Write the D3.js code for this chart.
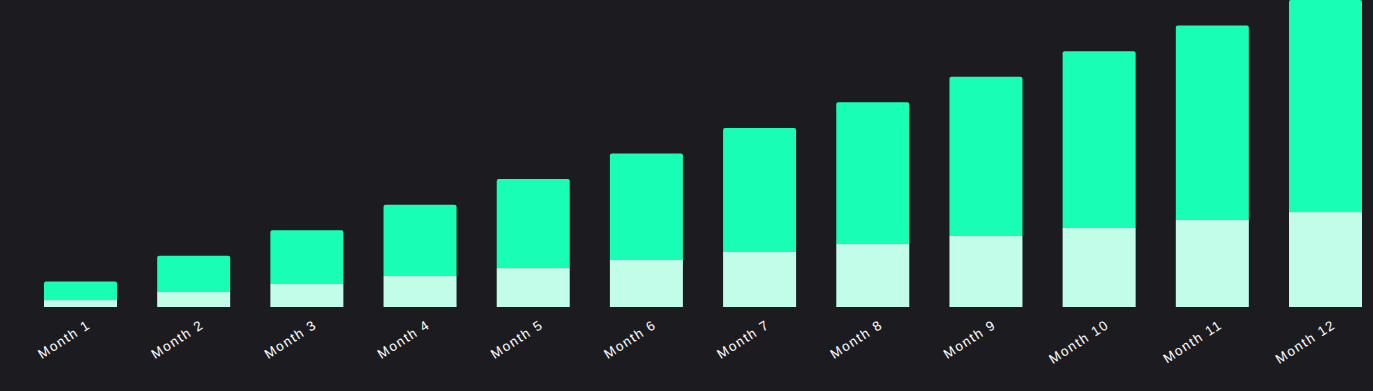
<!DOCTYPE html>
<html>
<head>
<meta charset="utf-8">
<script src="https://cdn.jsdelivr.net/npm/d3@7"></script>
<style>
  html, body { margin: 0; padding: 0; background: #1c1c20; }
  svg { display: block; }
</style>
</head>
<body>
<svg id="chart" width="1373" height="391"></svg>
<script>
const categories = ["Month 1","Month 2","Month 3","Month 4","Month 5","Month 6","Month 7","Month 8","Month 9","Month 10","Month 11","Month 12"];
const baseSeries = [270, 590, 900, 1210, 1520, 1840, 2150, 2460, 2780, 3090, 3400, 3710];
const topSeries  = [730, 1410, 2100, 2790, 3480, 4160, 4850, 5540, 6220, 6910, 7600, 8290];
const yMax = 12000;

const W = 1373, H = 391;
const svg = d3.select("#chart");
svg.append("rect").attr("width", W).attr("height", H).attr("fill", "#1c1c20");

const x = d3.scaleBand().domain(categories).range([44, 1362]).paddingInner(0.355).paddingOuter(0);
const y = d3.scaleLinear().domain([0, yMax]).range([307, 0]);

const data = categories.map((c, i) => ({ c, base: baseSeries[i], top: topSeries[i] }));

// base segments
svg.append("g").selectAll("rect").data(data).join("rect")
  .attr("x", d => x(d.c))
  .attr("width", x.bandwidth())
  .attr("y", d => y(d.base))
  .attr("height", d => y(0) - y(d.base))
  .attr("fill", "#c1fde9");

// top segments with rounded top corners
const r = 2;
function topPath(d) {
  const x0 = x(d.c), x1 = x0 + x.bandwidth();
  const yT = y(d.base + d.top), yB = y(d.base);
  return `M${x0},${yB} L${x0},${yT + r} Q${x0},${yT} ${x0 + r},${yT} L${x1 - r},${yT} Q${x1},${yT} ${x1},${yT + r} L${x1},${yB} Z`;
}
svg.append("g").selectAll("path").data(data).join("path")
  .attr("d", topPath)
  .attr("fill", "#18ffb5");

// x-axis labels
const xAxis = d3.axisBottom(x).tickSize(0).tickPadding(0);
const gx = svg.append("g").attr("transform", "translate(0,307)").call(xAxis);
gx.select(".domain").remove();
gx.selectAll("text")
  .attr("fill", "#ffffff")
  .attr("font-family", "'Liberation Sans', Arial, Helvetica, sans-serif")
  .attr("font-size", "13.5px")
  .attr("letter-spacing", "1.5px")
  .attr("text-anchor", "end")
  .attr("dy", null)
  .attr("y", 0)
  .attr("transform", "translate(11,20) rotate(-33)");
</script>
</body>
</html>
